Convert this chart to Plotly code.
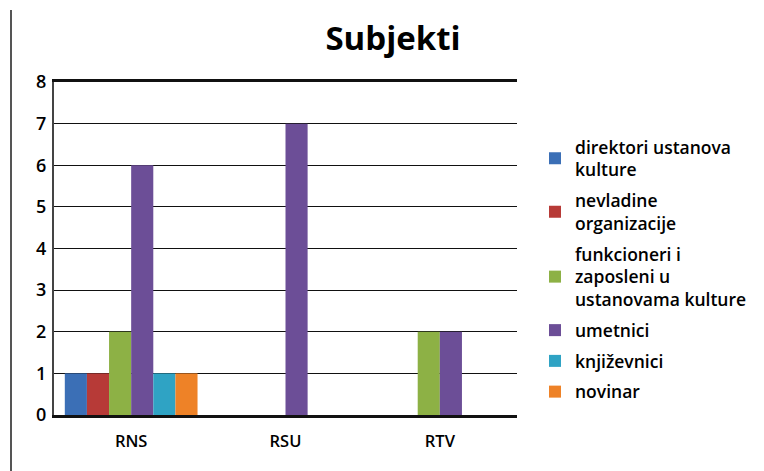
import plotly.graph_objects as go

categories = ["RNS", "RSU", "RTV"]
series_names = [
    "direktori ustanova<br>kulture",
    "nevladine<br>organizacije",
    "funkcioneri i<br>zaposleni u<br>ustanovama kulture",
    "umetnici",
    "književnici",
    "novinar",
]
direktori = [1, 0, 0]
nevladine = [1, 0, 0]
funkcioneri = [2, 0, 2]
umetnici = [6, 7, 2]
knjizevnici = [1, 0, 0]
novinar = [1, 0, 0]
series_values = [direktori, nevladine, funkcioneri, umetnici, knjizevnici, novinar]
colors = ["#3b6fb6", "#b73a37", "#8db145", "#6c4e97", "#2fa3c4", "#ee8227"]
y_ticks = [0, 1, 2, 3, 4, 5, 6, 7, 8]

FONT = "Open Sans"
OFF = 8  # page body margin

fig = go.Figure()
for i, (name, vals, col) in enumerate(zip(series_names, series_values, colors)):
    fig.add_trace(go.Bar(
        x=categories, y=vals, name=name,
        marker=dict(color=col, line=dict(width=0)),
        legendgroup=f"g{i}",
    ))

W, H = 764, 471
ml, mt = 54 - OFF, 82 - OFF
mr = W - (517 - OFF)
mb = H - (415 - OFF)
pw, ph = W - ml - mr, H - mt - mb

fig.update_layout(
    width=W, height=H,
    margin=dict(l=ml, r=mr, t=mt, b=mb),
    paper_bgcolor="white", plot_bgcolor="white",
    barmode="group", bargap=0.14, bargroupgap=0,
    title=dict(text="<b>Subjekti</b>", x=(393 - OFF) / W, xref="container", xanchor="center",
               y=1 - (38 - OFF) / H, yref="container", yanchor="middle",
               font=dict(family=FONT, size=33, color="#000")),
    font=dict(family=FONT, color="#000"),
    legend=dict(x=(535 - ml - OFF) / pw, xanchor="left", y=(H - mb - (129 - OFF)) / ph, yanchor="top",
                font=dict(family=FONT, size=17.5, color="#000", weight=600),
                tracegroupgap=5, itemclick=False, bgcolor="rgba(0,0,0,0)"),
    showlegend=True,
)
fig.update_xaxes(
    showline=True, linecolor="#111", linewidth=3, mirror=True,
    showgrid=False, ticks="", ticklabelstandoff=9,
    tickfont=dict(family=FONT, size=16.5, color="#000", weight=600),
)
fig.update_yaxes(
    range=[0, 8], tickvals=y_ticks, showline=True, linecolor="#444", linewidth=2,
    showgrid=True, gridcolor="#111", gridwidth=1, zeroline=False, ticks="",
    tickfont=dict(family=FONT, size=18, color="#000", weight=600), ticklabelstandoff=2,
)
fig.add_shape(type="line", xref="paper", yref="paper",
              x0=(11 - OFF - ml) / pw, x1=(11 - OFF - ml) / pw,
              y0=1 + (mt - (10 - OFF)) / ph, y1=-mb / ph,
              line=dict(color="#555", width=2))

fig.write_html("out.html")
